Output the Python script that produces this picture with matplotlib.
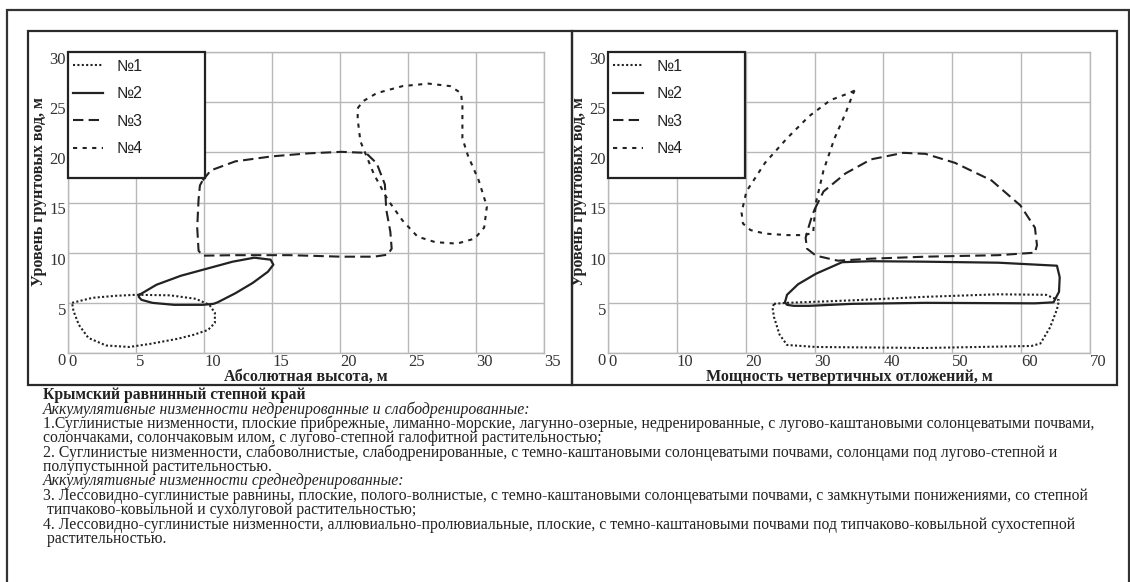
import numpy as np
import matplotlib
matplotlib.use("Agg")
import matplotlib.pyplot as plt
from matplotlib.patches import Rectangle
from matplotlib.lines import Line2D

# ---------------- data ----------------
series_labels = ["№1", "№2", "№3", "№4"]

# left chart: absolute height (x) vs ground water level (y)
l1_x = [0.3, 1.8, 3.5, 5.0, 7.5, 9.4, 10.4, 10.8, 10.8, 10.3, 9.2, 8.0, 6.0, 4.5, 2.8, 1.5, 0.8, 0.4]
l1_y = [5.0, 5.5, 5.7, 5.8, 5.75, 5.4, 4.8, 4.0, 3.0, 2.3, 1.8, 1.4, 0.9, 0.6, 0.75, 1.5, 2.8, 4.2]
l2_x = [5.25, 6.5, 8.3, 10.2, 12.1, 13.7, 14.9, 15.1, 14.7, 13.6, 12.3, 11.0, 10.7, 9.9, 7.8, 6.2, 5.4, 5.2]
l2_y = [5.8, 6.8, 7.7, 8.4, 9.1, 9.5, 9.3, 8.8, 8.1, 7.0, 5.95, 5.05, 4.9, 4.8, 4.8, 5.0, 5.3, 5.6]
l3_x = [9.9, 10.5, 12.3, 15.0, 17.7, 20.1, 21.9, 22.7, 23.3, 23.4, 23.7, 23.8, 23.5, 22.5, 20.1, 16.3, 12.3, 9.9, 9.6, 9.5, 9.6, 9.7]
l3_y = [17.2, 18.2, 19.1, 19.6, 19.9, 20.05, 19.95, 18.9, 16.8, 14.3, 12.1, 10.4, 9.8, 9.6, 9.6, 9.75, 9.75, 9.7, 10.2, 12.5, 15.3, 16.7]
l4_x = [21.3, 21.7, 22.7, 24.6, 26.5, 28.1, 28.9, 29.0, 29.0, 29.4, 30.2, 30.8, 30.6, 29.9, 28.6, 27.0, 25.7, 24.6, 23.5, 22.5, 21.5, 21.3]
l4_y = [24.4, 25.1, 25.9, 26.6, 26.85, 26.6, 25.9, 24.6, 21.4, 19.7, 17.2, 14.6, 12.5, 11.4, 10.9, 11.05, 11.6, 13.2, 15.3, 17.8, 21.1, 23.3]

# right chart: thickness of quaternary deposits (x) vs ground water level (y)
r1_x = [24.1, 26.0, 35.5, 46.1, 56.7, 63.6, 65.5, 65.2, 64.2, 62.8, 61.5, 46.1, 30.2, 26.0, 24.9, 24.1, 23.9]
r1_y = [4.9, 5.0, 5.25, 5.6, 5.85, 5.8, 5.25, 4.35, 2.55, 0.95, 0.7, 0.5, 0.6, 0.8, 1.85, 3.6, 4.5]
r2_x = [25.7, 26.0, 27.6, 30.2, 34.0, 38.2, 46.1, 56.7, 65.2, 65.6, 65.5, 64.7, 62.0, 46.1, 35.5, 29.2, 27.0, 26.0]
r2_y = [5.05, 5.8, 6.85, 7.9, 9.05, 9.15, 9.1, 9.0, 8.7, 7.55, 6.1, 5.05, 4.95, 5.0, 4.9, 4.7, 4.7, 4.8]
r3_x = [30.0, 31.3, 34.5, 38.2, 42.9, 46.1, 50.4, 55.7, 59.9, 62.0, 62.3, 62.0, 56.7, 46.1, 38.2, 33.4, 30.2, 28.9, 28.7, 29.2, 29.7]
r3_y = [14.3, 16.1, 17.9, 19.3, 19.95, 19.85, 18.95, 17.2, 14.7, 12.5, 10.75, 10.0, 9.75, 9.6, 9.4, 9.2, 9.7, 10.4, 11.5, 12.7, 13.8]
r4_x = [35.8, 35.0, 32.3, 29.2, 26.0, 22.8, 20.1, 19.4, 19.6, 20.7, 22.8, 26.0, 28.6, 29.8, 29.9, 30.2, 31.3, 32.9, 34.5, 35.5]
r4_y = [26.15, 25.9, 25.2, 23.6, 21.4, 18.95, 16.1, 14.0, 12.9, 12.25, 11.9, 11.75, 11.75, 12.0, 12.9, 15.0, 18.2, 21.4, 23.9, 25.7]

left_xticks = [0, 5, 10, 15, 20, 25, 30, 35]
right_xticks = [0, 10, 20, 30, 40, 50, 60, 70]
yticks = [0, 5, 10, 15, 20, 25, 30]

ylabel = "Уровень грунтовых вод, м"
left_xlabel = "Абсолютная высота, м"
right_xlabel = "Мощность четвертичных отложений, м"

caption = [
    ("Крымский равнинный степной край", "bold"),
    ("Аккумулятивные низменности недренированные и слабодренированные:", "italic"),
    ("1.Суглинистые низменности, плоские прибрежные, лиманно-морские, лагунно-озерные, недренированные, с лугово-каштановыми солонцеватыми почвами,", "normal"),
    ("солончаками, солончаковым илом, с лугово-степной галофитной растительностью;", "normal"),
    ("2. Суглинистые низменности, слабоволнистые, слабодренированные, с темно-каштановыми солонцеватыми почвами, солонцами под лугово-степной и", "normal"),
    ("полупустынной растительностью.", "normal"),
    ("Аккумулятивные низменности среднедренированные:", "italic"),
    ("3. Лессовидно-суглинистые равнины, плоские, полого-волнистые, с темно-каштановыми солонцеватыми почвами, с замкнутыми понижениями, со степной", "normal"),
    (" типчаково-ковыльной и сухолуговой растительностью;", "normal"),
    ("4. Лессовидно-суглинистые низменности, аллювиально-пролювиальные, плоские, с темно-каштановыми почвами под типчаково-ковыльной сухостепной", "normal"),
    (" растительностью.", "normal"),
]

# ---------------- style ----------------
W, H = 1130, 582
DPI = 100
SERIF = ["Liberation Serif", "DejaVu Serif"]
SANS = ["Liberation Sans", "DejaVu Sans"]
INK = "#222222"
GRID = "#b8b8b8"

styles = [
    dict(linestyle=(0, (1.0, 1.1)), linewidth=1.5),
    dict(linestyle="-", linewidth=1.6),
    dict(linestyle=(0, (5.0, 2.5)), linewidth=1.5),
    dict(linestyle=(0, (2.0, 2.6)), linewidth=1.5),
]

fig = plt.figure(figsize=(W / DPI, H / DPI), dpi=DPI)
fig.patch.set_facecolor("white")


def fx(px):
    return px / W


def fy(py):
    return 1 - py / H


def frame(x0, y0, x1, y1, lw, color):
    fig.add_artist(Rectangle((fx(x0), fy(y1)), (x1 - x0) / W, (y1 - y0) / H,
                             transform=fig.transFigure, fill=False,
                             linewidth=lw, edgecolor=color, zorder=0))


PANEL_BOTTOM = 385
# outer frame and panel frames
frame(7, 10, 1129, 600, 1.6, "#333333")
frame(28, 31, 572, PANEL_BOTTOM, 1.6, "#2a2a2a")
frame(572, 31, 1117, PANEL_BOTTOM, 1.6, "#2a2a2a")

TOP, BOTTOM = 52, 353


def make_axes(px_left, px_right, xmax, xticks, curves, xlabel):
    top, bottom = TOP, BOTTOM
    ax = fig.add_axes([fx(px_left), fy(bottom), (px_right - px_left) / W, (bottom - top) / H])
    ax.set_xlim(0, xmax)
    ax.set_ylim(0, 30)
    ax.set_xticks(xticks)
    ax.set_yticks(yticks)
    ax.grid(True, color=GRID, linewidth=1.0)
    ax.set_axisbelow(True)
    for s in ax.spines.values():
        s.set_color(GRID)
        s.set_linewidth(1.0)
    ax.tick_params(length=0, labelsize=12, colors="#333333", pad=1.0)
    ax.tick_params(axis="y", pad=1.5)
    for lab in ax.get_xticklabels():
        lab.set_fontfamily(SERIF)
        lab.set_ha("left")
    for lab in ax.get_yticklabels():
        lab.set_fontfamily(SERIF)
        lab.set_va("top")
    for (xs, ys), st in zip(curves, styles):
        xs = np.append(np.asarray(xs), xs[0])
        ys = np.append(np.asarray(ys), ys[0])
        ax.plot(xs, ys, color=INK, solid_joinstyle="round", dash_joinstyle="round", **st)
    # legend box
    box_w = 137 / (px_right - px_left)
    box_h = (178 - top) / (bottom - top)
    ax.add_patch(Rectangle((0, 1 - box_h), box_w, box_h, transform=ax.transAxes,
                           facecolor="white", edgecolor=INK, linewidth=1.6, zorder=5,
                           clip_on=False))
    handles = [Line2D([], [], color=INK, **st) for st in styles]
    leg = ax.legend(handles, series_labels, loc="upper left",
                    bbox_to_anchor=(5 / (px_right - px_left), 1 - 7 / (bottom - top)),
                    frameon=False, borderaxespad=0, borderpad=0,
                    handlelength=1.9, handletextpad=0.85, labelspacing=0.78,
                    prop=dict(family=SANS, size=11.5))
    leg.set_zorder(6)
    for t in leg.get_texts():
        t.set_color(INK)
    # labels
    fig.text(fx((px_left + px_right) / 2), fy(377), xlabel, ha="center", va="center",
             fontsize=11.5, fontweight="bold", family=SERIF, color=INK)
    fig.text(fx(px_left - 29), fy(192), ylabel, ha="center", va="center",
             rotation=90, fontsize=11.5, fontweight="bold", family=SERIF, color=INK)
    return ax


make_axes(68, 544, 35, left_xticks,
          [(l1_x, l1_y), (l2_x, l2_y), (l3_x, l3_y), (l4_x, l4_y)], left_xlabel)
make_axes(608, 1090, 70, right_xticks,
          [(r1_x, r1_y), (r2_x, r2_y), (r3_x, r3_y), (r4_x, r4_y)], right_xlabel)

# caption
y0 = 395
dy = 14.4
for i, (txt, kind) in enumerate(caption):
    kw = dict(family=SERIF, fontsize=11.3, color=INK, ha="left", va="center")
    if kind == "bold":
        kw["fontweight"] = "bold"
    elif kind == "italic":
        kw["fontstyle"] = "italic"
    fig.text(fx(43), fy(y0 + i * dy), txt, **kw)

fig.savefig("out.png", dpi=DPI)
